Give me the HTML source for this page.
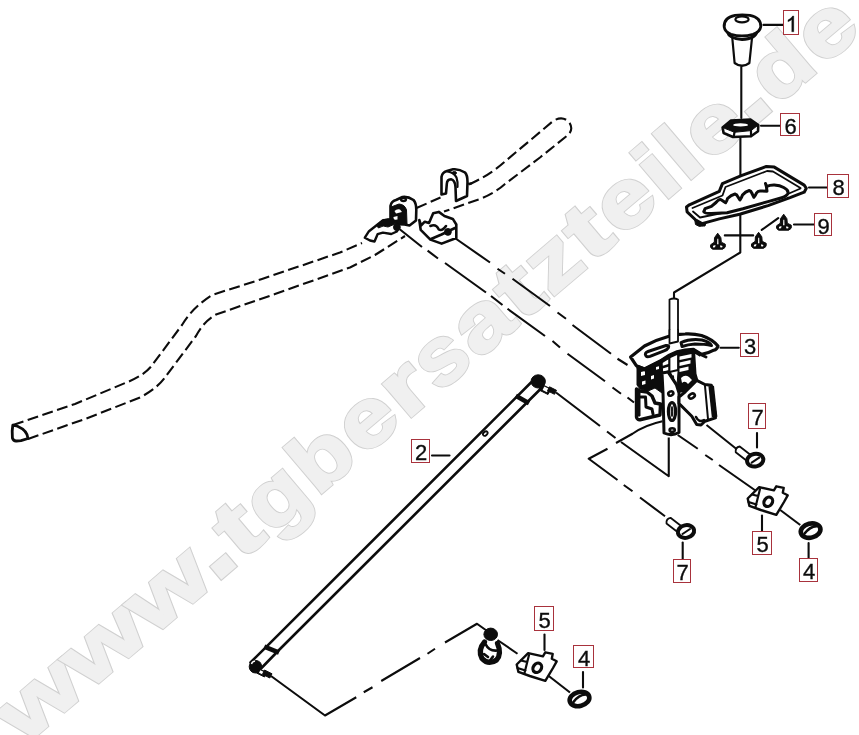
<!DOCTYPE html>
<html><head><meta charset="utf-8"><title>Diagram</title>
<style>
html,body{margin:0;padding:0;background:#fff;}
body{width:859px;height:735px;overflow:hidden;font-family:"Liberation Sans",sans-serif;}
svg{display:block;will-change:transform;opacity:.999}
.l{fill:none;stroke:#0c0c0c;stroke-width:2.1;stroke-linecap:round;stroke-linejoin:round}
.t{fill:none;stroke:#0c0c0c;stroke-width:2.6;stroke-linecap:round;stroke-linejoin:round}
.w{fill:#fff;stroke:#0c0c0c;stroke-width:2.1;stroke-linecap:round;stroke-linejoin:round}
.wt{fill:#fff;stroke:#0c0c0c;stroke-width:2.6;stroke-linecap:round;stroke-linejoin:round}
.k{fill:#0c0c0c;stroke:#0c0c0c;stroke-width:1;stroke-linejoin:round}
.d{stroke-dasharray:11 4.5;stroke-linecap:butt}
text{font-family:"Liberation Sans",sans-serif}
</style></head><body>
<svg width="859" height="735" viewBox="0 0 859 735">
<g transform="translate(23.85,746.1) rotate(-40.38)" font-size="81.0" font-weight="bold" stroke-linejoin="miter">
<text transform="translate(0.00,0) scale(1.338,1)" fill="#d0d0d0" stroke="#d0d0d0" stroke-width="3.7">w</text><text transform="translate(0.00,0) scale(1.338,1)" fill="#f0f0f0" stroke="#f0f0f0" stroke-width="2.0">w</text>
<text transform="translate(84.29,0) scale(1.338,1)" fill="#d0d0d0" stroke="#d0d0d0" stroke-width="3.7">w</text><text transform="translate(84.29,0) scale(1.338,1)" fill="#f0f0f0" stroke="#f0f0f0" stroke-width="2.0">w</text>
<text transform="translate(168.58,0) scale(1.338,1)" fill="#d0d0d0" stroke="#d0d0d0" stroke-width="3.7">w</text><text transform="translate(168.58,0) scale(1.338,1)" fill="#f0f0f0" stroke="#f0f0f0" stroke-width="2.0">w</text>
<text transform="translate(251.63,0) scale(1.493,1.22)" fill="#d0d0d0" stroke="#d0d0d0" stroke-width="3.7">.</text><text transform="translate(251.63,0) scale(1.493,1.22)" fill="#f0f0f0" stroke="#f0f0f0" stroke-width="2.0">.</text>
<text transform="translate(285.16,0) scale(1.367,1)" fill="#d0d0d0" stroke="#d0d0d0" stroke-width="3.7">t</text><text transform="translate(285.16,0) scale(1.367,1)" fill="#f0f0f0" stroke="#f0f0f0" stroke-width="2.0">t</text>
<text transform="translate(325.02,0) scale(1.144,1)" fill="#d0d0d0" stroke="#d0d0d0" stroke-width="3.7">g</text><text transform="translate(325.02,0) scale(1.144,1)" fill="#f0f0f0" stroke="#f0f0f0" stroke-width="2.0">g</text>
<text transform="translate(385.22,0) scale(1.144,1)" fill="#d0d0d0" stroke="#d0d0d0" stroke-width="3.7">b</text><text transform="translate(385.22,0) scale(1.144,1)" fill="#f0f0f0" stroke="#f0f0f0" stroke-width="2.0">b</text>
<text transform="translate(445.33,0) scale(1.193,1)" fill="#d0d0d0" stroke="#d0d0d0" stroke-width="3.7">e</text><text transform="translate(445.33,0) scale(1.193,1)" fill="#f0f0f0" stroke="#f0f0f0" stroke-width="2.0">e</text>
<text transform="translate(502.08,0) scale(1.276,1)" fill="#d0d0d0" stroke="#d0d0d0" stroke-width="3.7">r</text><text transform="translate(502.08,0) scale(1.276,1)" fill="#f0f0f0" stroke="#f0f0f0" stroke-width="2.0">r</text>
<text transform="translate(545.12,0) scale(1.066,1)" fill="#d0d0d0" stroke="#d0d0d0" stroke-width="3.7">s</text><text transform="translate(545.12,0) scale(1.066,1)" fill="#f0f0f0" stroke="#f0f0f0" stroke-width="2.0">s</text>
<text transform="translate(596.39,0) scale(1.200,1)" fill="#d0d0d0" stroke="#d0d0d0" stroke-width="3.7">a</text><text transform="translate(596.39,0) scale(1.200,1)" fill="#f0f0f0" stroke="#f0f0f0" stroke-width="2.0">a</text>
<text transform="translate(653.36,0) scale(1.367,1)" fill="#d0d0d0" stroke="#d0d0d0" stroke-width="3.7">t</text><text transform="translate(653.36,0) scale(1.367,1)" fill="#f0f0f0" stroke="#f0f0f0" stroke-width="2.0">t</text>
<text transform="translate(692.95,0) scale(1.192,1)" fill="#d0d0d0" stroke="#d0d0d0" stroke-width="3.7">z</text><text transform="translate(692.95,0) scale(1.192,1)" fill="#f0f0f0" stroke="#f0f0f0" stroke-width="2.0">z</text>
<text transform="translate(743.96,0) scale(1.367,1)" fill="#d0d0d0" stroke="#d0d0d0" stroke-width="3.7">t</text><text transform="translate(743.96,0) scale(1.367,1)" fill="#f0f0f0" stroke="#f0f0f0" stroke-width="2.0">t</text>
<text transform="translate(783.72,0) scale(1.193,1)" fill="#d0d0d0" stroke="#d0d0d0" stroke-width="3.7">e</text><text transform="translate(783.72,0) scale(1.193,1)" fill="#f0f0f0" stroke="#f0f0f0" stroke-width="2.0">e</text>
<text transform="translate(840.06,0) scale(1.229,1)" fill="#d0d0d0" stroke="#d0d0d0" stroke-width="3.7">i</text><text transform="translate(840.06,0) scale(1.229,1)" fill="#f0f0f0" stroke="#f0f0f0" stroke-width="2.0">i</text>
<text transform="translate(869.49,0) scale(1.229,1)" fill="#d0d0d0" stroke="#d0d0d0" stroke-width="3.7">l</text><text transform="translate(869.49,0) scale(1.229,1)" fill="#f0f0f0" stroke="#f0f0f0" stroke-width="2.0">l</text>
<text transform="translate(899.75,0) scale(1.193,1)" fill="#d0d0d0" stroke="#d0d0d0" stroke-width="3.7">e</text><text transform="translate(899.75,0) scale(1.193,1)" fill="#f0f0f0" stroke="#f0f0f0" stroke-width="2.0">e</text>
<text transform="translate(953.97,0) scale(1.493,1.22)" fill="#d0d0d0" stroke="#d0d0d0" stroke-width="3.7">.</text><text transform="translate(953.97,0) scale(1.493,1.22)" fill="#f0f0f0" stroke="#f0f0f0" stroke-width="2.0">.</text>
<text transform="translate(988.13,0) scale(1.144,1)" fill="#d0d0d0" stroke="#d0d0d0" stroke-width="3.7">d</text><text transform="translate(988.13,0) scale(1.144,1)" fill="#f0f0f0" stroke="#f0f0f0" stroke-width="2.0">d</text>
<text transform="translate(1048.24,0) scale(1.193,1)" fill="#d0d0d0" stroke="#d0d0d0" stroke-width="3.7">e</text><text transform="translate(1048.24,0) scale(1.193,1)" fill="#f0f0f0" stroke="#f0f0f0" stroke-width="2.0">e</text>
</g>
<!-- handlebar (dashed) -->
<g class="l d">
<path d="M13,425 L75,404 L130,381 Q146,374 153,364 L182,325 Q192,308 212,295 L262,279 L340,252.5 L362,243"/>
<path d="M28,439 L85,419 L140,397.5 Q158,388 166,376 L196,336 Q204,321 216,314.5 L275,294 L350,267.5 L375,255 L405,236"/>
<path d="M416.5,208 L440.5,197.5"/>
<path d="M469,184.5 Q490,175 505,161.5 L552.5,121.5 Q562,115 569,122 Q574,129 568,135 L540,157.5 L505,184 Q495,193 480,199 L444,211.5"/>
</g>
<path class="t" style="stroke-width:2.8" d="M12.8,425.2 L12.2,431 L12.4,438 Q13.5,441.3 16.5,441 L21,440.6 L28,438.5 Q27.5,430.5 17.5,426.2 Z"/>

<!-- long dash-dot lines -->
<g class="l" style="stroke-linecap:butt">
<path d="M399.7,229.3 L422,247 M427.6,250.7 L438,258.5 M445,263 L486,292.5 M491,296 L502.5,305 M507.5,308.75 L545,336 M552.5,341 L560,347.5 M567.5,353.75 L605,381.25 M612.5,387.5 L621,393.75 M627.5,397.5 L634,402.5"/>
<path d="M452,236 L490,262.5 M497.5,268.75 L505,273.75 M512.5,278.75 L550,306 M557.5,312.5 L566,318.75 M572.5,325 L611,353.75 M617.5,358.75 L627.5,365"/>
<path d="M556,392.5 L600,426 M607,431.5 L615.5,438 M621,442 L668.75,476.25 L668.75,437.5"/>
<path d="M662.5,421.25 Q645,425 632.5,433.75 L616,443 M607.5,448.75 L588.75,458.75 L617.5,480 M623.75,485 L632.5,491.25 M640,497.5 L665,516.25"/>
<path d="M677.75,435 L697.75,448.75 M705.25,455 L712.75,460 M719,465 L756.5,491.25"/>
<path d="M706.5,425 L737.75,450"/>
<path d="M780.25,510 L800.25,525"/>
<path d="M271,676 L325,715.5 L356.25,697.25 M363.75,692.25 L372.5,687.25 M381.25,681 L420,658 M427.5,653.75 L435,648.75 M445,642.5 L477,623.75 L487.5,631.25"/>
<path d="M497.5,640 L517.5,653.75"/>
<path d="M547.5,675 L570,692.5"/>
</g>

<!-- rod 2 -->
<g>
<path class="l" style="stroke-width:2.6" d="M531,382.5 L266,647.2 L250.5,662.5 M541,388.5 L278.5,650.5 L261.5,668"/>
<path class="t" style="stroke-width:4.6;stroke-linecap:butt" d="M515.8,395.8 L529,403.2"/>
<path class="t" style="stroke-width:4.8;stroke-linecap:butt" d="M264.3,646.6 L279,652.6"/>
<ellipse class="k" cx="538.2" cy="381.4" rx="7.2" ry="6.6"/>
<path class="k" d="M541,384 L551,389 L548,394.5 L539,390 Z"/>
<path d="M544.3,386.6 L548.8,388.8 L547,392.2 L542.6,390 Z" fill="#fff"/>
<path class="k" d="M549.5,386.8 L556.5,390.3 L554.5,394.3 L547.5,390.8 Z"/>
<ellipse class="t" style="stroke-width:1.8" cx="485.3" cy="433.6" rx="2.6" ry="1.8" transform="rotate(-40 485.3 433.6)"/>
<circle class="k" cx="255.5" cy="666.7" r="6.3"/>
<path d="M251.5,664 Q252,661.5 255,661" stroke="#fff" stroke-width="1.4" fill="none"/>
<path class="k" d="M258.5,668.5 L267,672.5 L264.5,677 L256.5,673 Z"/>
<path d="M260.3,670.2 L264,672 L262.6,674.6 L259,672.8 Z" fill="#fff"/>
<path class="k" d="M264.5,670 L272,673.8 L269.8,678 L262.5,674.3 Z"/>
<path class="l" d="M432,455.5 L449.5,455.5"/>
</g>

<!-- knob 1 -->
<g>
<path class="w" style="stroke-width:2.2" d="M732.3,38 L734.6,63 Q742,68.5 749.4,63 L752,38 Z"/>
<path class="wt" style="stroke-width:3" d="M727.5,32 Q729,38.5 742,39.5 Q755,39 757,31.5 Z"/>
<path class="wt" style="stroke-width:2.8" d="M724.2,27 Q723.5,17.5 735,15.3 Q742,14.3 750,15.3 Q761,17.5 760.8,26.5 Q760,32 753,34.3 Q742,37.5 731,34.3 Q725,32 724.2,27 Z"/>
<ellipse class="l" style="stroke-width:2.2" cx="742" cy="19.4" rx="6.6" ry="3"/>
<path class="l" d="M741.3,67 L741.3,118"/>
<path class="l" d="M763.4,24.9 L783,24.9"/>
</g>

<!-- nut 6 -->
<g>
<path class="wt" style="stroke-width:2.6" d="M722.6,127.5 L723.6,133 L733,137 L751,136.2 L758,131.2 L758.3,125 L750.5,119.6 L731,120.6 Z"/>
<path class="k" d="M722.6,127.5 L731,120.6 L750.5,119.6 L758.3,125 L751,130.6 L734.5,132.3 Z"/>
<ellipse cx="740.6" cy="124.9" rx="7.4" ry="1.7" fill="#fff"/>
<path class="t" style="stroke-width:2.2" d="M734.5,132.3 L733.6,137 M751,130.6 L751,136.2"/>
<path class="l" d="M761,125.7 L780,125.7"/>
<path class="l" d="M740.4,138 L740.4,176"/>
</g>

<!-- plate 8 -->
<g>
<path class="wt" style="stroke-width:3" d="M686.5,207 L687.1,211.9 L695.7,220 L702,223.6 L719.3,218.9 L739.7,214.2 L768,205.6 L790,197.7 L804.2,192.2 L806.3,188.3 L804.2,185.1 L774.3,167.1 L766.4,166.4 L741.3,175.7 L722.4,183.6 L719.3,191.4 L689.4,204.8 Z"/>
<path class="l" style="stroke-width:1.8" d="M692.5,208 L722.5,195.5 L725.5,187 L767,171 L773,171.5 L800.5,188 M693,211.5 L700,217.5 L739,209.5 L789,193.5 L800.5,188.5"/>
<path class="wt" style="stroke-width:3" d="M703.8,211.6 L705.1,208.7 L711.4,206.4 L716,202.5 Q719.5,198.5 721.5,200 L725.6,202.8 Q727,201 727.5,198.5 Q731,195 735,194 Q737,194.5 738,197 L739.9,200 Q741.5,198 742.5,195 Q745.5,191.5 749.2,190.5 Q751.2,191 752,193.5 L753.9,197.3 Q755.5,195.5 756.5,193 Q758,190.5 761,191 L767,191.2 L766.4,186.5 L765.5,183.5 M766.4,186.6 Q770,185 774.3,185.1 Q780,185.5 783.7,187.5 Q789.4,190.5 787.6,194 Q786,196.8 780,198.2 L768,201.6 L742.9,208.7 L727.1,212.7 L711.4,213.6 Q705,213.8 703.8,211.6"/>
<path class="k" d="M694.5,218.5 L701,222.5 L703.5,225.5 L699.5,226.5 L695.5,224.5 Z M701,222.5 L706,222.5 L705,226 L701.5,226 Z"/>
<path class="l" d="M809,187.5 L827,187.5"/>
<path class="l" d="M740.3,215.5 L740.3,252.5 L674,292.5 L674,300"/>
</g>

<!-- screws 9 -->
<g>
<path class="k" d="M717.7,233.2 L720.9000000000001,237.7 L721.3000000000001,242.2 L725.3000000000001,244.2 Q726.3000000000001,247.7 722.7,249.2 L712.7,249.2 Q709.5,247.7 710.7,244.7 L714.3000000000001,242.2 L714.5,237.7 Z"/><path d="M717.3000000000001,238.7 L718.3000000000001,238.7 L718.5,244.2 L717.1,244.2 Z M713.1,245.7 L715.5,245.0 L715.1,247.2 L712.9000000000001,247.39999999999998 Z M720.3000000000001,245.2 L722.5,246.0 L722.1,247.5 L720.1,247.2 Z" fill="#fff"/><path class="k" d="M758.6,232.3 L761.8000000000001,236.8 L762.2,241.3 L766.2,243.3 Q767.2,246.8 763.6,248.3 L753.6,248.3 Q750.4,246.8 751.6,243.8 L755.2,241.3 L755.4,236.8 Z"/><path d="M758.2,237.8 L759.2,237.8 L759.4,243.3 L758.0,243.3 Z M754.0,244.8 L756.4,244.10000000000002 L756.0,246.3 L753.8000000000001,246.5 Z M761.2,244.3 L763.4,245.10000000000002 L763.0,246.60000000000002 L761.0,246.3 Z" fill="#fff"/><path class="k" d="M783.7,214.2 L786.9000000000001,218.7 L787.3000000000001,223.2 L791.3000000000001,225.2 Q792.3000000000001,228.7 788.7,230.2 L778.7,230.2 Q775.5,228.7 776.7,225.7 L780.3000000000001,223.2 L780.5,218.7 Z"/><path d="M783.3000000000001,219.7 L784.3000000000001,219.7 L784.5,225.2 L783.1,225.2 Z M779.1,226.7 L781.5,226.0 L781.1,228.2 L778.9000000000001,228.39999999999998 Z M786.3000000000001,226.2 L788.5,227.0 L788.1,228.5 L786.1,228.2 Z" fill="#fff"/>
<path class="l" d="M724.8,235.4 L753.2,235.4 M761.7,229.9 L778.2,218.1 M794,224.5 L814,224.5"/>
</g>

<!-- shifter 3 -->
<g>
<path class="w" style="stroke-width:1.8" d="M669.5,299.5 L669.5,340 L678,340 L678,299.5 Q674,297.5 669.5,299.5 Z"/>
<!-- dark mass under plate (left) -->
<path class="k" d="M637,366 L661.5,360.5 L662,393 L655,388 L648,391 L640,389 L637,385 Z"/>
<path d="M641,372 L645,371 L645,375 L641,376 Z M651,376 L654,375 L654,378.5 L651,379.5 Z M642,381.5 L645.5,380.5 L645.5,384 L642,385 Z M656,367 L659,366.3 L659,369 L656,369.8 Z" fill="#fff"/>
<!-- stairs -->
<path class="w" style="stroke-width:2.2" d="M661.5,361 L669.5,357.5 L669.5,372 L677,386 L663,392.5 Z"/>
<path class="t" style="stroke-width:2.4;stroke-linecap:butt" d="M661.5,367.5 L669.5,365 M662,373.5 L671,371 M662.5,379.5 L674,376.5 M663,386 L676.5,382.5"/>
<!-- right of rod -->
<path class="k" d="M678,352.5 L694,349.5 L695,374 L697,381 L686,392 L679,392 L677,386 L678,372 Z"/>
<path d="M679.5,356.5 L691.5,354 L691.5,357.5 L679.5,360 Z M679.5,362.5 L690.5,360 L690.5,363.5 L679.5,366 Z M679.5,368.5 L688.5,366.5 L688.5,370 L679.5,372 Z M681,378 Q685,374 689,377 L692,380 L688,384 Q685,380 682,383 Z" fill="#fff"/>
<!-- rod through -->
<path class="w" style="stroke-width:1.8" d="M669.5,352 L669.5,372 L678,370 L678,351 Z"/>
<!-- top plate -->
<path class="wt" style="stroke-width:3.2" d="M630.6,357 L644.5,346 Q657,339.5 669,336.3 Q677,334 685.3,333.9 Q694,333.5 701.6,335.5 Q712,339 718,346 Q717,349.5 713.8,350.2 Q708,353.5 701.6,354.3 L693.4,349.4 Q685,349.5 677,351.8 Q668,355 660.8,360.8 L644.5,369 L636.3,365.7 Z"/>
<path class="t" style="stroke-width:4;stroke-linecap:butt" d="M637,366.5 L645,369.5 L661,361.5 Q669,356 677,353 Q685,350.8 693.4,350.6 L701,355"/>
<path class="t" style="stroke-width:3" d="M646,355.8 Q644,353 648,351.5 L666,345.5 Q669.5,345 668.5,347.5 Q667.5,349.5 664,350.8 L650,356.3 Q647,357.3 646,355.8 Z"/>
<path class="t" style="stroke-width:3" d="M681,342.5 Q690,338.5 702,340 Q710,342 711.5,345.5 Q705,344 695,344 Q688,344.5 682,346.5 Z"/>
<path class="w" style="stroke-width:1.8" d="M669.5,330 L669.5,343.5 L678,341.5 L678,330"/>
<path class="t" style="stroke-width:3" d="M701.6,355 L706,357 M693.5,350 L695,374 L697,381"/>
<!-- left bracket -->
<path class="wt" style="stroke-width:3.4" d="M636.5,389 L636.5,417 Q637,420.5 641,419.5 L660,415 L660.5,404 L655,403 L652,396 L647,392 L640,391 Z"/>
<path class="t" style="stroke-width:3" d="M640.5,397 L645.5,397 L646,407 L652,409 L653,414"/>
<path class="k" d="M636,392 L640,392 L640,416 L636,416 Z"/>
<!-- centre lever -->
<path class="wt" style="stroke-width:3" d="M662,373 L663,392.5 L664,433 Q671.5,436.5 679,432.5 L679,393 L676.5,385 L668,372 Z"/>
<ellipse class="t" style="stroke-width:3.2" cx="672" cy="411.5" rx="3.6" ry="9"/>
<ellipse class="k" cx="672" cy="411.5" rx="0.8" ry="5"/>
<ellipse class="t" cx="670.8" cy="393.5" rx="2.6" ry="2" transform="rotate(-25 670.8 393.5)"/>
<ellipse class="t" cx="672.2" cy="430" rx="2.6" ry="1.8"/>
<!-- right plate -->
<path class="wt" style="stroke-width:3" d="M685.3,391.8 L696.7,380.4 L704.9,384.5 L711.4,385.3 L715.5,417.9 L704.9,421.2 L701,425 L696.7,424.5 L691.8,416.3 L679,403.5 L679,397 Z"/>
<path class="t" style="stroke-width:5.6;stroke-linecap:butt" d="M711.2,386 L714.6,417"/>
<path class="t" style="stroke-width:2" d="M704.9,385 L708,419"/>
<ellipse class="t" cx="691.8" cy="396" rx="3.2" ry="2.2" transform="rotate(-30 691.8 396)"/>
<path class="t" d="M696,417 Q699,423 704,420"/>
<path class="l" d="M720.5,347.7 L738.8,347.7"/>
</g>

<!-- bolts 7 -->
<g>
<path class="w" style="stroke-width:1.8" d="M739.7,446.5 L750.7,455.0 L746.7,460.7 L735.7,452.2 Q735.2,447.2 739.7,446.5 Z"/>
<ellipse class="wt" style="stroke-width:4" cx="755.2" cy="460.2" rx="8.2" ry="6.3" transform="rotate(-12 755.2 460.2)"/>
<path class="t" style="stroke-width:2" d="M751.7,462.7 L759.2,457.7"/>
<path class="l" d="M757,433 L757,447.5"/>
<path class="w" style="stroke-width:1.8" d="M670.5,517.8 L681.5,526.3 L677.5,532.0 L666.5,523.5 Q666.0,518.5 670.5,517.8 Z"/>
<ellipse class="wt" style="stroke-width:4" cx="686" cy="531.5" rx="8.2" ry="6.3" transform="rotate(-12 686 531.5)"/>
<path class="t" style="stroke-width:2" d="M682.5,534.0 L690.0,529.0"/>
<path class="l" d="M682.7,542.5 L682.7,559"/>
</g>
<!-- clip 5 upper -->
<g><path class="wt" style="stroke-width:2.4" d="M747.7,498.5 L759.2,487.1 L773.9,490.4 L776.3,486.3 L783.7,487.9 L782.8,492.8 L787.7,495.3 L784.0,502.0 L776.3,514.9 L760.8,510.0 L749.4,505.9 Z"/>
<path class="t" style="stroke-width:2.2" d="M760.0,489.0 L755.5,507.0 M748.5,502.0 L756.5,504.5 M752.0,494.5 L758.0,496.0"/>
<ellipse class="t" style="stroke-width:3.2" cx="768.3" cy="501.8" rx="4" ry="5" transform="rotate(35 768.3 501.8)"/>
<path class="l" d="M762,515.5 L762,531.5"/></g>
<!-- nut 4 upper -->
<g><ellipse class="wt" style="stroke-width:4.6" cx="810.6" cy="530.6" rx="10" ry="7" transform="rotate(-14 810.6 530.6)"/>
<path class="t" style="stroke-width:2.6" d="M804.6,533.6 Q809.6,526.6 816.6,526.1"/>
<path class="l" d="M808.6,543 L808.6,558"/></g>
<!-- clip 5 lower -->
<g><path class="wt" style="stroke-width:2.4" d="M516.7,664.5 L528.2,653.1 L542.9,656.4 L545.3,652.3 L552.7,653.9 L551.8,658.8 L556.7,661.3 L553.0,668.0 L545.3,680.9 L529.8,676.0 L518.4,671.9 Z"/>
<path class="t" style="stroke-width:2.2" d="M529.0,655.0 L524.5,673.0 M517.5,668.0 L525.5,670.5 M521.0,660.5 L527.0,662.0"/>
<ellipse class="t" style="stroke-width:3.2" cx="537.3" cy="667.8" rx="4" ry="5" transform="rotate(35 537.3 667.8)"/>
<path class="l" d="M544.5,634.5 L544.5,650"/></g>
<!-- nut 4 lower -->
<g><ellipse class="wt" style="stroke-width:4.6" cx="579.5" cy="699" rx="10" ry="7" transform="rotate(-14 579.5 699)"/>
<path class="t" style="stroke-width:2.6" d="M573.5,702.0 Q578.5,695.0 585.5,694.5"/>
<path class="l" d="M583,672 L583,687.5"/></g>
<!-- ball joint bottom -->
<g>
<path class="wt" style="stroke-width:5.2" d="M484.5,642 Q477.5,650 482,658.5 Q488.5,665.5 496.5,660 Q502,654 497.5,643.5"/>
<path class="t" style="stroke-width:2.6" d="M485.5,644 Q489,651.5 497.5,650.5 M484,654 L488,657 M490,660.5 L493,656.5"/>
<ellipse class="k" cx="490.7" cy="634.3" rx="6.8" ry="6.2"/>
</g>
<!-- clamps -->
<g>
<!-- right top -->
<path class="wt" style="stroke-width:2.6" d="M441.5,194.5 L441.5,177 Q442,172.5 447,171 L453,169.3 Q459,168.6 465,172.5 Q467.5,175 467.5,182 L467,196 L456,201 L455.5,187 Q455,180 451,179.3 Q447,179.5 446.8,184 L446,193.5 Z"/>
<path class="t" style="stroke-width:2.2" d="M447.5,171.5 Q454,172.5 456.5,177.5 Q458,182 457.5,187"/>
<ellipse class="k" cx="454.3" cy="173" rx="2.2" ry="1.4"/>
<path class="l" d="M468.5,183.8 L471.5,183.4"/>
<!-- left top -->
<path class="wt" style="stroke-width:2.6" d="M390.5,222 L390.5,206 Q391,201.5 396,200 L402.5,197 Q408,196.3 413.5,200 Q416.3,203 416.3,210 L416,220.5 L409.5,225.5 L404.5,224.5 L392,224 Z"/>
<path class="k" d="M391,207 L399,204 Q405,204.5 406.5,210 L407,224 L392,223.5 Z"/>
<path d="M394.5,211 Q397,208.5 400,209.5 L402,212 L396,213.5 Z M393.5,217 L397.5,216 L397.5,219.5 L393.5,220 Z" fill="#fff"/>
<ellipse class="l" cx="403.5" cy="199.6" rx="2.6" ry="1.5"/>
<!-- left bottom saddle -->
<path class="wt" style="stroke-width:2.4" d="M364.8,237.7 L369,231.2 L376,225.7 L383,220.3 L392.7,219.4 L396,223 L398.5,228 L396.9,231.5 L391.3,234 L382.9,232.6 L377.6,234.2 L374.5,241.5 L370,240.5 Z"/>
<path class="k" d="M376.5,225.5 Q381,219.5 388,218.8 L393.5,219.5 L395,224 L388,227 Q383,224.5 378.5,228 Z"/>
<circle class="k" cx="396.9" cy="227.2" r="3.4"/>
<!-- right bottom saddle -->
<path class="wt" style="stroke-width:2.6" d="M419.3,220 L421,225.5 L424.8,221.7 L429,223 L433.2,213.3 L438.8,211.9 L444.4,216 L452.8,218.9 L456.3,224.5 L456.3,238 L441.6,243.6 L430.4,239.6 L420.7,229.9 Z"/>
<path class="t" style="stroke-width:2.6" d="M430.4,226 Q436,223.5 438.8,229.5 Q442,231.5 446,226 M431,239 L441.5,234.5 L455,228"/>
<circle class="k" cx="447.9" cy="231.9" r="3.4"/>
</g>

<g><rect x="783.5" y="10.5" width="15" height="24" fill="#fff" stroke="#a8323c" stroke-width="1"/><path transform="translate(785.59,31.8) scale(0.957)" d="M8.57,0 L6.45,0 L6.45,-12.88 Q5.82,-12.18 4.63,-11.49 Q3.45,-10.79 2.5,-10.44 L2.5,-12.4 Q4.2,-13.2 5.47,-14.33 Q6.74,-15.46 7.27,-16.53 L8.57,-16.53 Z" fill="#0c0c0c" stroke="#0c0c0c" stroke-width="0.35"/><rect x="780.5" y="113.5" width="19" height="22" fill="#fff" stroke="#a8323c" stroke-width="1"/><text x="790.7" y="133.8" font-size="22" text-anchor="middle" fill="#0c0c0c" stroke="#0c0c0c" stroke-width="0.35">6</text><rect x="827.5" y="174.5" width="21" height="23" fill="#fff" stroke="#a8323c" stroke-width="1"/><text x="838.7" y="195.3" font-size="22" text-anchor="middle" fill="#0c0c0c" stroke="#0c0c0c" stroke-width="0.35">8</text><rect x="814.5" y="213.5" width="17" height="22" fill="#fff" stroke="#a8323c" stroke-width="1"/><text x="823.7" y="233.8" font-size="22" text-anchor="middle" fill="#0c0c0c" stroke="#0c0c0c" stroke-width="0.35">9</text><rect x="740.5" y="333.5" width="18" height="23" fill="#fff" stroke="#a8323c" stroke-width="1"/><text x="750.2" y="354.3" font-size="22" text-anchor="middle" fill="#0c0c0c" stroke="#0c0c0c" stroke-width="0.35">3</text><rect x="748.5" y="403.5" width="17" height="25" fill="#fff" stroke="#a8323c" stroke-width="1"/><text x="757.7" y="424.9" font-size="22" text-anchor="middle" fill="#0c0c0c" stroke="#0c0c0c" stroke-width="0.35">7</text><rect x="411.5" y="439.5" width="18" height="23" fill="#fff" stroke="#a8323c" stroke-width="1"/><text x="421.2" y="460.3" font-size="22" text-anchor="middle" fill="#0c0c0c" stroke="#0c0c0c" stroke-width="0.35">2</text><rect x="752.5" y="531.5" width="19" height="23" fill="#fff" stroke="#a8323c" stroke-width="1"/><text x="762.7" y="552.3" font-size="22" text-anchor="middle" fill="#0c0c0c" stroke="#0c0c0c" stroke-width="0.35">5</text><rect x="799.5" y="558.5" width="18" height="23" fill="#fff" stroke="#a8323c" stroke-width="1"/><text x="809.2" y="579.3" font-size="22" text-anchor="middle" fill="#0c0c0c" stroke="#0c0c0c" stroke-width="0.35">4</text><rect x="673.5" y="559.5" width="17" height="23" fill="#fff" stroke="#a8323c" stroke-width="1"/><text x="682.7" y="580.3" font-size="22" text-anchor="middle" fill="#0c0c0c" stroke="#0c0c0c" stroke-width="0.35">7</text><rect x="534.5" y="606.5" width="19" height="24" fill="#fff" stroke="#a8323c" stroke-width="1"/><text x="544.7" y="627.8" font-size="22" text-anchor="middle" fill="#0c0c0c" stroke="#0c0c0c" stroke-width="0.35">5</text><rect x="573.5" y="645.5" width="20" height="22" fill="#fff" stroke="#a8323c" stroke-width="1"/><text x="584.2" y="665.8" font-size="22" text-anchor="middle" fill="#0c0c0c" stroke="#0c0c0c" stroke-width="0.35">4</text></g>
</svg>
</body></html>
